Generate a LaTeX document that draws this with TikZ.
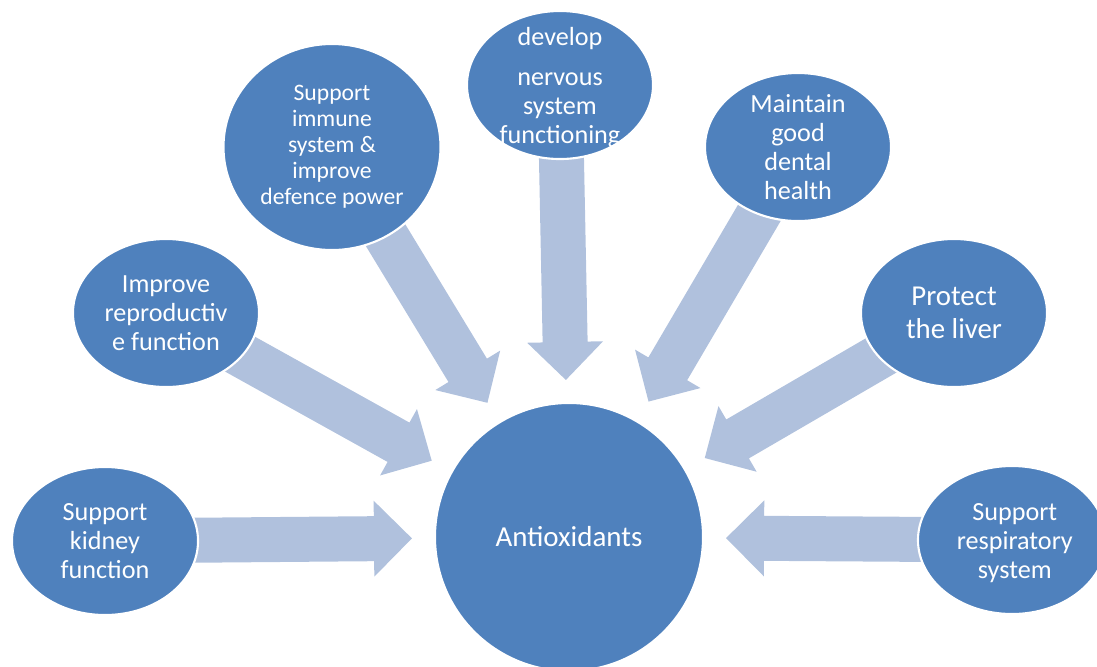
\documentclass[tikz,border=0pt]{standalone}
\usepackage{fontspec}
\setmainfont{Carlito}
\usetikzlibrary{shapes.geometric,calc}

\definecolor{bubblefill}{HTML}{4F81BD}
\definecolor{arrowfill}{HTML}{B0C1DD}

\pgfdeclarelayer{bg}
\pgfsetlayers{bg,main}

% block arrow from a bubble towards the hub
\newcommand\spokearrow[1]{%
  \coordinate (#1-tip) at ($(anti.center)!111.7pt!(#1.center)$);
  \coordinate (#1-base) at ($(#1-tip)!27pt!(#1.center)$);
  \fill[arrowfill] (#1-tip) -- ($(#1-base)!27pt!90:(#1-tip)$) -- ($(#1-base)!16pt!90:(#1-tip)$)
    -- ($(#1.center)!16pt!90:(#1-tip)$) -- ($(#1.center)!16pt!-90:(#1-tip)$)
    -- ($(#1-base)!16pt!-90:(#1-tip)$) -- ($(#1-base)!27pt!-90:(#1-tip)$) -- cycle;}

\begin{document}
\begin{tikzpicture}[x=0.025cm, y=-0.025cm,
    bubble/.style={ellipse, fill=bubblefill, draw=white, line width=1.5pt,
      minimum width=4.65cm, minimum height=3.7cm, inner sep=0pt},
    bubbletext/.style={text=white, align=center, inner sep=0pt,
      font=\fontsize{18.6}{20.6}\selectfont},
    hub/.style={circle, fill=bubblefill, draw=white, line width=1.5pt,
      minimum size=6.7cm, text=white, font=\fontsize{20.6}{24}\selectfont}]

  \useasboundingbox (0,0) rectangle (1097,666);

  % ==================== 1. hub ====================
  \node[hub] (anti) at (569,537) {Antioxidants};

  % ==================== 2. bubbles (left to right) ====================
  \node[bubble, label={[bubbletext]center:{Support\\kidney\\function}}] (kidney) at (105,541) {};
  \node[bubble, label={[bubbletext]center:{Improve\\reproductiv\\e function}}] (repro) at (166,313) {};
  \node[bubble, minimum width=5.425cm, minimum height=5.15cm,
    label={[bubbletext, font=\fontsize{16.8}{18.5}\selectfont]center:{Support\\immune\\system \&\\improve\\defence power}}] (immune) at (332,147) {};
  \node[bubble, label={[bubbletext, yshift=-2pt]center:{develop\\[8pt]nervous\\system\\functioning}}] (nerve) at (560,85) {};
  \node[bubble, label={[bubbletext]center:{Maintain\\good\\dental\\health}}] (dental) at (798,147) {};
  \node[bubble, label={[bubbletext, font=\fontsize{20.5}{23.5}\selectfont]center:{Protect\\the liver}}] (liver) at (954,313) {};
  \node[bubble, minimum width=4.7cm, label={[bubbletext, xshift=2pt, yshift=-2pt]center:{Support\\respiratory\\system}}] (resp) at (1012,540) {};

  % ==================== 3. arrows (behind the bubbles) ====================
  \begin{pgfonlayer}{bg}
    \spokearrow{kidney}
    \spokearrow{repro}
    \spokearrow{immune}
    \spokearrow{nerve}
    \spokearrow{dental}
    \spokearrow{liver}
    \spokearrow{resp}
  \end{pgfonlayer}

\end{tikzpicture}
\end{document}
